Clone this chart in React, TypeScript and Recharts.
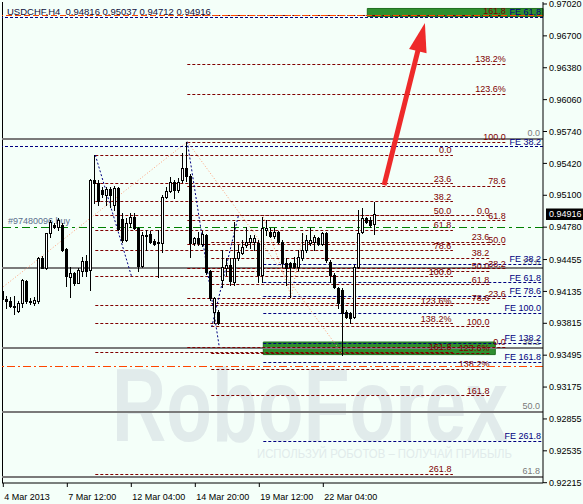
import React from 'react';
import { ComposedChart, Bar, XAxis, YAxis, ReferenceLine, ReferenceArea } from 'recharts';

const W = 583;
const H = 504;
const FONT = '"Liberation Sans", Arial, sans-serif';
const BG = '#F4FFF9';
const DARKRED = '#800000';
const NAVY = '#000080';
const GRAY = '#7A7A7A';
const ORANGE = '#FF4500';
const GREEN = '#008000';
const SALMON = '#FFA07A';
const ARROW = '#EE2A2A';
const BOX = '#2F8F2F';

// ---- candles (H4 USDCHF) ----
const opens = [
  0.94139, 0.94059, 0.94039, 0.93988, 0.93941, 0.94019, 0.94239, 0.94042, 0.94019, 0.94042,
  0.94467, 0.94370, 0.94718, 0.94801, 0.94781, 0.94801, 0.94557, 0.94282, 0.94317, 0.94222,
  0.94343, 0.94440, 0.94350, 0.95253, 0.95226, 0.95153, 0.95103, 0.95160, 0.95002, 0.95170,
  0.94859, 0.94651, 0.94818, 0.94885, 0.94768, 0.94393, 0.94701, 0.94708, 0.94641, 0.94618,
  0.94618, 0.95086, 0.95143, 0.95236, 0.95153, 0.95253, 0.95374, 0.95296, 0.94618, 0.94671,
  0.94611, 0.94701, 0.94340, 0.93931, 0.93931, 0.94249, 0.94370, 0.94400, 0.94232, 0.94467,
  0.94523, 0.94601, 0.94634, 0.94634, 0.94618, 0.94300, 0.94751, 0.94734, 0.94694, 0.94728,
  0.94634, 0.94417, 0.94417, 0.94417, 0.94383, 0.94467, 0.94551, 0.94618, 0.94634, 0.94668,
  0.94608, 0.94718, 0.94433, 0.94300, 0.94172, 0.94149, 0.93925, 0.93915, 0.93881, 0.94383,
  0.94734, 0.94869, 0.94852, 0.94816,
];
const highs = [
  0.94159, 0.94089, 0.94079, 0.94089, 0.94039, 0.94259, 0.94249, 0.94069, 0.94079, 0.94483,
  0.94490, 0.94724, 0.94852, 0.94822, 0.94872, 0.94822, 0.94571, 0.94383, 0.94333, 0.94367,
  0.94483, 0.94500, 0.95263, 0.95504, 0.95253, 0.95186, 0.95186, 0.95186, 0.95193, 0.95186,
  0.94922, 0.94872, 0.94925, 0.94922, 0.94784, 0.94734, 0.94751, 0.94741, 0.94661, 0.94751,
  0.95103, 0.95186, 0.95286, 0.95253, 0.95270, 0.95521, 0.95638, 0.95310, 0.94684, 0.94731,
  0.94741, 0.94708, 0.94350, 0.94082, 0.93948, 0.94551, 0.94470, 0.94470, 0.94832, 0.94601,
  0.94651, 0.94784, 0.94701, 0.94701, 0.94651, 0.94885, 0.94852, 0.94771, 0.94771, 0.94741,
  0.94651, 0.94470, 0.94433, 0.94480, 0.94551, 0.94721, 0.94701, 0.94768, 0.94701, 0.94684,
  0.94734, 0.94734, 0.94450, 0.94317, 0.94182, 0.94166, 0.93948, 0.93931, 0.94400, 0.94952,
  0.94969, 0.94885, 0.94885, 0.95037,
];
const lows = [
  0.94039, 0.93968, 0.93978, 0.93908, 0.93928, 0.93978, 0.94019, 0.94009, 0.93998, 0.94016,
  0.94370, 0.94357, 0.94684, 0.94771, 0.94751, 0.94541, 0.94189, 0.94076, 0.94199, 0.94216,
  0.94289, 0.94289, 0.94149, 0.95022, 0.95002, 0.95083, 0.95002, 0.94985, 0.94952, 0.94751,
  0.94634, 0.94641, 0.94784, 0.94761, 0.94340, 0.94383, 0.94551, 0.94618, 0.94601, 0.94282,
  0.94534, 0.95069, 0.95136, 0.95069, 0.95136, 0.95236, 0.95243, 0.94483, 0.94601, 0.94601,
  0.94591, 0.94307, 0.94049, 0.93815, 0.93805, 0.94182, 0.94300, 0.94199, 0.94199, 0.94450,
  0.94515, 0.94584, 0.94571, 0.94551, 0.94229, 0.94229, 0.94701, 0.94684, 0.94671, 0.94618,
  0.94383, 0.94199, 0.94082, 0.94367, 0.94350, 0.94450, 0.94531, 0.94601, 0.94551, 0.94601,
  0.94601, 0.94433, 0.94232, 0.94166, 0.93965, 0.93497, 0.93865, 0.93815, 0.93865, 0.94367,
  0.94718, 0.94818, 0.94784, 0.94712,
];
const closes = [
  0.94059, 0.94039, 0.93988, 0.93978, 0.94022, 0.94249, 0.94039, 0.94026, 0.94049, 0.94467,
  0.94373, 0.94718, 0.94835, 0.94781, 0.94852, 0.94551, 0.94289, 0.94323, 0.94222, 0.94350,
  0.94440, 0.94343, 0.95253, 0.95220, 0.95045, 0.95113, 0.95160, 0.95103, 0.95173, 0.94758,
  0.94651, 0.94818, 0.94885, 0.94768, 0.94393, 0.94701, 0.94694, 0.94628, 0.94608, 0.94634,
  0.95086, 0.95143, 0.95236, 0.95153, 0.95236, 0.95377, 0.95293, 0.94618, 0.94668, 0.94621,
  0.94711, 0.94333, 0.94072, 0.94072, 0.93815, 0.94383, 0.94400, 0.94239, 0.94467, 0.94534,
  0.94584, 0.94634, 0.94668, 0.94674, 0.94300, 0.94768, 0.94774, 0.94694, 0.94734, 0.94634,
  0.94417, 0.94370, 0.94383, 0.94383, 0.94483, 0.94551, 0.94651, 0.94651, 0.94684, 0.94608,
  0.94718, 0.94450, 0.94300, 0.94182, 0.94016, 0.93915, 0.93881, 0.93871, 0.94383, 0.94718,
  0.94869, 0.94835, 0.94801, 0.94916,
];

// ---- axes ----
const xTickBars = [0, 16, 32, 48, 64, 80];
const xTickLabels = ['4 Mar 2013', '7 Mar 12:00', '12 Mar 04:00', '14 Mar 20:00', '19 Mar 12:00', '22 Mar 04:00'];
const yTicks = [0.9702, 0.967, 0.9638, 0.9606, 0.9574, 0.9542, 0.951, 0.9478, 0.94455, 0.94135, 0.93815, 0.93495, 0.93175, 0.92855, 0.92535, 0.92215];
const X_DOMAIN: [number, number] = [-0.325, 134.925];
const Y_DOMAIN: [number, number] = [0.92212, 0.9704];

// ---- fibonacci tools ----
const retrLevels = [0, 23.6, 38.2, 50, 61.8, 78.6, 100, 123.6, 138.2, 161.8, 261.8];
const retrLabels = ['0.0', '23.6', '38.2', '50.0', '61.8', '78.6', '100.0', '123.6%', '138.2%', '161.8', '261.8'];
const fibA = { p0: 0.95504, p100: 0.9428, from: 23, to: 112.4, count: 11 };
const fibB = { p0: 0.94892, p100: 0.93778, from: 52, to: 121.9, count: 10 };
const fibC = { p0: 0.93577, p100: 0.95631, from: 46, to: 126, count: 10 };
const grayLevels = [0, 23.6, 38.2, 50, 61.8];
const grayFib = { p0: 0.95665, p100: 0.90178 };
const fe1Levels = [38.2, 61.8];
const fe1 = { p0: 0.9348, p100: 0.9899 };
const fe2Levels = [38.2, 61.8, 78.6, 100, 138.2, 161.8, 261.8];
const fe2 = { p0: 0.94714, p100: 0.93918, from: 65 };

// ---- other objects ----
const orderPrice = 0.9478;
const orderText = '#97480096 buy';
const orangeTop = 0.96902;
const orangeBottom = 0.93386;
const greenZones = [
  { x1: 91, x2: X_DOMAIN[1], y1: 0.96894, y2: 0.96975 },
  { x1: 65, x2: 123, y1: 0.93501, y2: 0.93627 },
];
const navyTrends: [number, number][][] = [
  [[23, 0.95504], [32.1, 0.9428]],
  [[46, 0.95638], [54, 0.93577]],
  [[52.1, 0.93778], [58.75, 0.94892]],
];
const salmonTrends: [number, number][][] = [
  [[0, 0.94182], [46, 0.95638]],
  [[46, 0.95638], [85, 0.93497]],
  [[65, 0.94885], [72, 0.94082]],
  [[72, 0.94082], [75, 0.94721]],
];
const arrowPts: [number, number][] = [[95.2, 0.95203], [105.4, 0.96829]];

const lvl = (f: { p0: number; p100: number }, r: number) => f.p0 + ((f.p100 - f.p0) * r) / 100;

// ---- shapes ----
const Candle = (props: any) => {
  const { x, y, width, height, payload } = props;
  if (x == null || y == null || !payload) return null;
  const { open, high, low, close } = payload;
  const top = Math.min(y, y + height);
  const span = Math.abs(height);
  const k = span / (high - low);
  const py = (v: number) => top + (high - v) * k;
  const col = Math.floor(x + width / 2);
  const yh = Math.round(py(high));
  const yl = Math.round(py(low));
  const bull = close >= open;
  const bt = Math.round(py(Math.max(open, close)));
  const bb = Math.round(py(Math.min(open, close)));
  return (
    <g>
      <line x1={col + 0.5} x2={col + 0.5} y1={yh} y2={yl + 1} stroke="#000" strokeWidth={1} />
      {bb - bt < 1 ? (
        <line x1={col - 1} x2={col + 2} y1={bt + 0.5} y2={bt + 0.5} stroke="#000" strokeWidth={1} />
      ) : (
        <rect x={col - 0.5} y={bt + 0.5} width={2} height={bb - bt} fill={bull ? '#FFFFFF' : '#000000'} stroke="#000" strokeWidth={1} />
      )}
    </g>
  );
};

const CrispLine = (p: any) => {
  const { x1, y1, x2, y2, stroke, strokeWidth, strokeDasharray } = p;
  const w = Number(strokeWidth || 1);
  let ya = y1, yb = y2, xa = x1, xb = x2;
  if (Math.abs(y1 - y2) < 0.01) {
    const yy = w % 2 === 1 ? Math.floor(y1) + 0.5 : Math.round(y1);
    ya = yy; yb = yy;
  } else if (Math.abs(x1 - x2) < 0.01) {
    const xx = w % 2 === 1 ? Math.floor(x1) + 0.5 : Math.round(x1);
    xa = xx; xb = xx;
  }
  return <line x1={xa} y1={ya} x2={xb} y2={yb} stroke={stroke} strokeWidth={w} strokeDasharray={strokeDasharray} fill="none" />;
};

const ArrowShape = (p: any) => {
  const { x1, y1, x2, y2 } = p;
  const dx = x2 - x1, dy = y2 - y1;
  const len = Math.hypot(dx, dy) || 1;
  const ux = dx / len, uy = dy / len;
  const headLen = 29, headHalf = 9;
  const bx = x2 - ux * headLen, by = y2 - uy * headLen;
  const nx = -uy, ny = ux;
  return (
    <g>
      <line x1={x1} y1={y1} x2={bx + ux * 3} y2={by + uy * 3} stroke={ARROW} strokeWidth={5} />
      <polygon points={`${x2},${y2} ${bx + nx * headHalf},${by + ny * headHalf} ${bx - nx * headHalf},${by - ny * headHalf}`} fill={ARROW} />
    </g>
  );
};

const LevelLabel = (props: any) => {
  const vb = props.viewBox || {};
  const { text, color, anchor = 'end', inset = 1.5, lift = 2 } = props;
  const x = anchor === 'end' ? vb.x + vb.width - inset : vb.x + inset;
  return (
    <text x={x} y={vb.y - lift} textAnchor={anchor} fill={color} fontSize={9} fontFamily={FONT}>
      {text}
    </text>
  );
};

const PriceBox = (props: any) => {
  const vb = props.viewBox || {};
  const x = vb.x + vb.width + 3;
  const y = vb.y;
  return (
    <g>
      <rect x={x} y={Math.round(y) - 5.5} width={37} height={11.5} fill="#000" />
      <text x={x + 3} y={y + 3.2} fill="#FFF" fontSize={9} fontFamily={FONT}>{props.text}</text>
    </g>
  );
};

const XTick = (p: any) => {
  const idx = xTickBars.indexOf(p.payload?.value);
  return (
    <text x={p.x + 1} y={p.y + 11} fontSize={9} fontFamily={FONT} fill="#000">
      {idx >= 0 ? xTickLabels[idx] : ''}
    </text>
  );
};

export default function App() {
  const data = opens.map((o, i) => ({
    i,
    open: o,
    high: highs[i],
    low: lows[i],
    close: closes[i],
    range: [lows[i], highs[i]],
  }));
  const last = opens.length - 1;
  const header = `USDCHF,H4  ${opens[last].toFixed(5)} ${highs[last].toFixed(5)} ${lows[last].toFixed(5)} ${closes[last].toFixed(5)}`;

  const seg = (xa: number, xb: number, y: number) => [{ x: xa, y }, { x: xb, y }] as any;

  const retrLines = (f: typeof fibA, key: string) =>
    retrLevels.slice(0, f.count).map((r, j) => (
      <ReferenceLine
        key={`${key}-${j}`}
        segment={seg(f.from, f.to, lvl(f, r))}
        stroke={DARKRED}
        strokeDasharray="3 2"
        ifOverflow="visible"
        shape={CrispLine}
        label={<LevelLabel text={retrLabels[j]} color={DARKRED} />}
      />
    ));

  return (
    <div style={{ position: 'absolute', left: 0, top: 0, width: W, height: H, background: BG, overflow: 'hidden' }}>
      <svg width={W} height={H} style={{ position: 'absolute', left: 0, top: 0 }}>
        <text x={112} y={441} fontSize={104} fontWeight={700} fontFamily={FONT} fill="#E1EBEB" textLength={396} lengthAdjust="spacingAndGlyphs">
          RoboForex
        </text>
        <text x={257} y={458} fontSize={12} fontFamily={FONT} fill="#E1EBEB" textLength={255} lengthAdjust="spacingAndGlyphs">
          ИСПОЛЬЗУЙ РОБОТОВ – ПОЛУЧАЙ ПРИБЫЛЬ
        </text>
      </svg>
      <div style={{ position: 'absolute', left: 0, top: 0 }}>
        <ComposedChart width={W} height={H} data={data} margin={{ top: 2, right: 0, bottom: 0, left: 2 }}>
          <XAxis
            dataKey="i"
            type="number"
            domain={X_DOMAIN}
            allowDataOverflow
            ticks={xTickBars}
            interval={0}
            height={21}
            tickSize={4}
            tickMargin={2}
            tick={(p: any) => <XTick {...p} />}
            tickLine={{ stroke: '#000' }}
            axisLine={{ stroke: '#000' }}
          />
          <YAxis
            orientation="right"
            type="number"
            domain={Y_DOMAIN}
            allowDataOverflow
            ticks={yTicks}
            interval={0}
            width={40}
            tickSize={4}
            tickMargin={2}
            tick={{ fill: '#000', fontSize: 9, fontFamily: FONT }}
            tickLine={{ stroke: '#000' }}
            axisLine={{ stroke: '#000' }}
            tickFormatter={(v: number) => v.toFixed(5)}
          />

          {greenZones.map((z, j) => (
            <ReferenceArea key={`gz-${j}`} x1={z.x1} x2={z.x2} y1={z.y1} y2={z.y2} fill={BOX} fillOpacity={1} stroke="#1F6F1F" ifOverflow="visible" />
          ))}

          <ReferenceLine
            segment={[{ x: X_DOMAIN[0] + 0.125, y: Y_DOMAIN[0] }, { x: X_DOMAIN[0] + 0.125, y: Y_DOMAIN[1] }]}
            stroke="#000"
            ifOverflow="visible"
            shape={CrispLine}
          />

          {grayLevels.map((r, j) => (
            <ReferenceLine
              key={`gray-${j}`}
              y={lvl(grayFib, r)}
              stroke={GRAY}
              strokeWidth={2}
              ifOverflow="visible"
              shape={CrispLine}
              label={<LevelLabel text={r.toFixed(1)} color={GRAY} inset={3} lift={3} />}
            />
          ))}

          {fe1Levels.map((r, j) => (
            <ReferenceLine
              key={`fe1-${j}`}
              y={lvl(fe1, r)}
              stroke={NAVY}
              strokeDasharray="3 2"
              ifOverflow="visible"
              shape={CrispLine}
              label={<LevelLabel text={`FE ${r.toFixed(1)}`} color={NAVY} inset={2} />}
            />
          ))}
          {fe2Levels.map((r, j) => (
            <ReferenceLine
              key={`fe2-${j}`}
              segment={seg(fe2.from, X_DOMAIN[1], lvl(fe2, r))}
              stroke={NAVY}
              strokeDasharray="3 2"
              ifOverflow="visible"
              shape={CrispLine}
              label={<LevelLabel text={`FE ${r.toFixed(1)}`} color={NAVY} inset={2} />}
            />
          ))}

          {retrLines(fibA, 'fa')}
          {retrLines(fibB, 'fb')}
          {retrLines(fibC, 'fc')}

          <ReferenceLine y={orangeTop} stroke={ORANGE} strokeDasharray="6 3" ifOverflow="visible" shape={CrispLine} />
          <ReferenceLine y={orangeBottom} stroke={ORANGE} strokeDasharray="8 3 2 3" ifOverflow="visible" shape={CrispLine} />
          <ReferenceLine
            y={orderPrice}
            stroke={GREEN}
            strokeDasharray="8 4 3 4"
            ifOverflow="visible"
            shape={CrispLine}
            label={<LevelLabel text={orderText} color="#5A6E8C" anchor="start" inset={6} lift={3} />}
          />

          {navyTrends.map((s, j) => (
            <ReferenceLine
              key={`nt-${j}`}
              segment={[{ x: s[0][0], y: s[0][1] }, { x: s[1][0], y: s[1][1] }]}
              stroke={NAVY}
              strokeDasharray="2 2"
              ifOverflow="visible"
              shape={CrispLine}
            />
          ))}
          {salmonTrends.map((s, j) => (
            <ReferenceLine
              key={`st-${j}`}
              segment={[{ x: s[0][0], y: s[0][1] }, { x: s[1][0], y: s[1][1] }]}
              stroke={SALMON}
              strokeDasharray="1 2"
              ifOverflow="visible"
              shape={CrispLine}
            />
          ))}

          <ReferenceLine
            segment={[{ x: arrowPts[0][0], y: arrowPts[0][1] }, { x: arrowPts[1][0], y: arrowPts[1][1] }]}
            stroke={ARROW}
            ifOverflow="visible"
            shape={ArrowShape}
          />

          <ReferenceLine y={closes[last]} stroke="none" ifOverflow="visible" label={<PriceBox text={closes[last].toFixed(5)} />} />

          <Bar dataKey="range" barSize={3} isAnimationActive={false} shape={Candle} zIndex={450} />
        </ComposedChart>
      </div>
      <div
        style={{
          position: 'absolute',
          left: 7,
          top: 6,
          fontSize: 9.5,
          lineHeight: '11px',
          fontFamily: FONT,
          color: '#101040',
          whiteSpace: 'pre',
        }}
      >
        {header}
      </div>
    </div>
  );
}
